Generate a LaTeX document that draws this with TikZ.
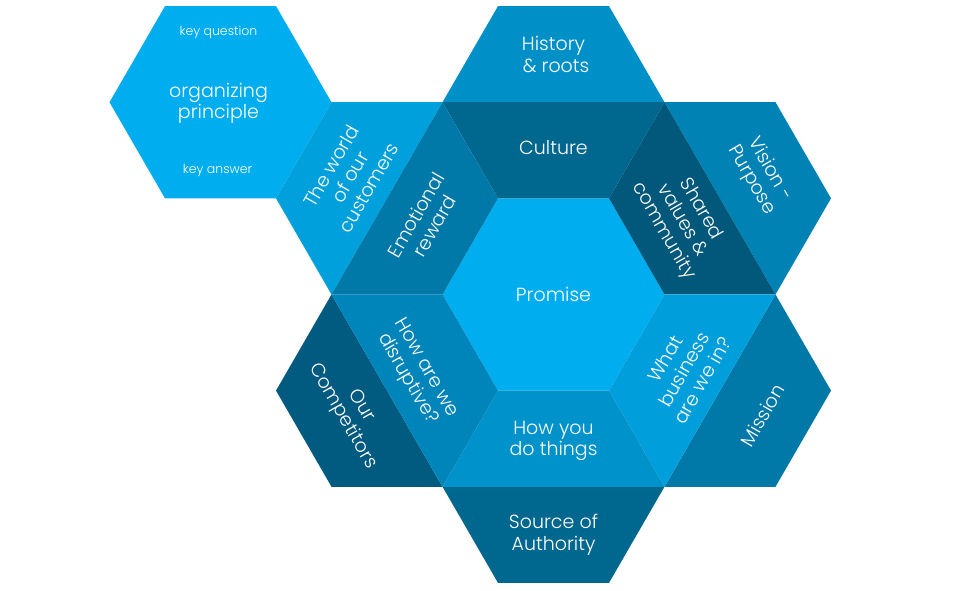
\documentclass[tikz,border=0pt]{standalone}
\usepackage{fontspec}
\setmainfont{Poppins}[UprightFont=* Light]
\usetikzlibrary{calc}
\definecolor{cOrg}{HTML}{00ADEF}
\definecolor{cPromise}{HTML}{00ADEE}
\definecolor{cWorld}{HTML}{00A0DC}
\definecolor{cEmo}{HTML}{0079A9}
\definecolor{cHist}{HTML}{0090C8}
\definecolor{cCult}{HTML}{00678F}
\definecolor{cShared}{HTML}{01587B}
\definecolor{cVision}{HTML}{0082B5}
\definecolor{cBiz}{HTML}{009FDB}
\definecolor{cMission}{HTML}{0078A8}
\definecolor{cDisr}{HTML}{0085BA}
\definecolor{cComp}{HTML}{015A80}
\definecolor{cHow}{HTML}{0092CA}
\definecolor{cSource}{HTML}{00678F}
% #1 name, #2 direction, #3 outer colour, #4 inner colour, #5 outer text, #6 inner text,
% #7 rotation, #8 outer text offset, #9 inner text offset
\newcommand\HexPair[9]{%
  \path (C) ++(#2:192.26pt) coordinate (#1);
  \fill[#3, shift={(#1)}] (#2-90:111pt) -- (#2-30:111pt) -- (#2+30:111pt) -- (#2+90:111pt) -- cycle;
  \fill[#4, shift={(#1)}] (#2+90:111pt) -- (#2+150:111pt) -- (#2+210:111pt) -- (#2+270:111pt) -- cycle;
  \node[lbl, rotate=#7] (#1-out) at ($(#1)+(#2:#8pt)$) {#5};
  \node[lbl, rotate=#7] (#1-in) at ($(#1)+(#2+180:#9pt)$) {#6};
}
\begin{document}
\begin{tikzpicture}[x=1pt,y=1pt,
  lbl/.style={text=white, align=center, inner sep=0pt, font=\fontsize{19}{21.5}\selectfont},
  small/.style={text=white, align=center, inner sep=0pt, font=\fontsize{12.5}{14}\selectfont}]
\useasboundingbox (0,0) rectangle (980,591);
\coordinate (C) at (553.5,296.5);
% organizing principle hexagon
\path (C) ++(150:384.52pt) coordinate (O);
\fill[cOrg, shift={(O)}] (0:111pt) -- (60:111pt) -- (120:111pt) -- (180:111pt) -- (240:111pt) -- (300:111pt) -- cycle;
\node[small] (kq) at (218.5,558.5) {key question};
\node[lbl] (op) at (218.5,487.5) {organizing\\principle};
\node[small] (ka) at (217.5,421) {key answer};
% centre
\fill[cPromise, shift={(C)}] (0:111pt) -- (60:111pt) -- (120:111pt) -- (180:111pt) -- (240:111pt) -- (300:111pt) -- cycle;
\node[lbl] (promise) at (C) {Promise};
% neighbours
\HexPair{top}{90}{cHist}{cCult}{History\\\ \& roots}{Culture}{0}{48}{45}
\HexPair{tr}{30}{cVision}{cShared}{Vision -\\Purpose}{Shared\\values \&\\community}{-60}{47}{44}
\HexPair{br}{-30}{cMission}{cBiz}{Mission}{What\\business\\are we in?}{60}{49}{42}
\HexPair{bot}{-90}{cSource}{cHow}{Source of\\Authority}{How you\\do things}{0}{48}{46}
\HexPair{bl}{-150}{cComp}{cDisr}{Our\\Competitors}{How are we\\disruptive?}{-60}{41}{34}
\HexPair{tl}{150}{cWorld}{cEmo}{The world\\of our\\customers}{Emotional\\reward}{60}{43}{44}
\end{tikzpicture}
\end{document}
